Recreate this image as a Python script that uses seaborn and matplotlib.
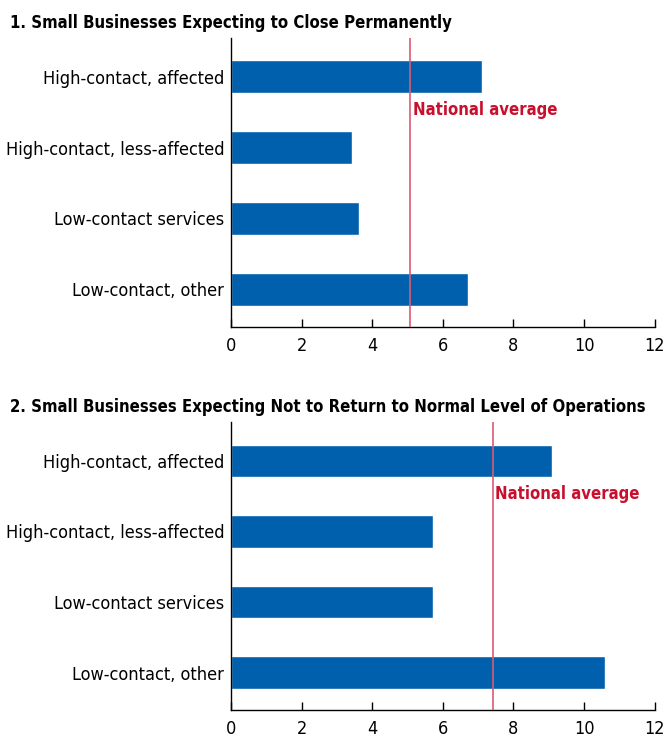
import seaborn as sns
import matplotlib.pyplot as plt
from matplotlib import font_manager
import pandas as pd

categories = ["High-contact, affected", "High-contact, less-affected",
              "Low-contact services", "Low-contact, other"]
close_values = [7.1, 3.42, 3.62, 6.7]
close_avg = 5.07
not_return_values = [9.1, 5.72, 5.72, 10.6]
not_return_avg = 7.41
titles = ["1. Small Businesses Expecting to Close Permanently",
          "2. Small Businesses Expecting Not to Return to Normal Level of Operations"]
x_ticks = [0, 2, 4, 6, 8, 10, 12]

sns.set_style("white")
# look for a narrow font, the original uses a condensed face
narrow = [f.name for f in font_manager.fontManager.ttflist
          if "narrow" in f.fname.lower() or "condensed" in f.fname.lower()]
plt.rcParams['font.family'] = (narrow[:1] or []) + ['DejaVu Sans']
plt.rcParams['font.stretch'] = 'condensed'
plt.rcParams['text.color'] = 'black'
plt.rcParams['xtick.color'] = 'black'
plt.rcParams['ytick.color'] = 'black'

bar_color = "#0060ad"
line_color = "#dc5a72"
text_color = "#c8102e"

fig = plt.figure(figsize=(6.64, 7.38), dpi=100)
ax1 = fig.add_axes([0.348, 0.557, 0.638, 0.392])
ax2 = fig.add_axes([0.348, 0.038, 0.638, 0.390])

panels = [(ax1, close_values, close_avg, titles[0], 0.969),
          (ax2, not_return_values, not_return_avg, titles[1], 0.448)]

for ax, vals, avg, title, ty in panels:
    df = pd.DataFrame({"category": categories, "value": vals})
    sns.barplot(data=df, x="value", y="category", orient="h", color=bar_color,
                width=0.46, saturation=1, ax=ax)
    ax.axvline(avg, color=line_color, lw=1.2, zorder=3)
    ax.text(avg + 0.08, 0.47, "National average", color=text_color, fontsize=12,
            fontweight="bold", va="center", ha="left")
    ax.set_xlim(0, 12)
    ax.set_ylim(3.53, -0.55)
    ax.set_xticks(x_ticks)
    ax.set_xlabel("")
    ax.set_ylabel("")
    for side in ["top", "right"]:
        ax.spines[side].set_visible(False)
    for side in ["left", "bottom"]:
        ax.spines[side].set_color("black")
        ax.spines[side].set_linewidth(1.0)
    ax.tick_params(axis="x", direction="in", length=6, width=1, color="black",
                   labelsize=13, pad=7, bottom=True)
    ax.tick_params(axis="y", length=0, labelsize=13, pad=5)
    fig.text(0.015, ty, title, fontsize=12, fontweight="bold", ha="left", va="center")

plt.savefig("out.png", dpi=100)
plt.close()
